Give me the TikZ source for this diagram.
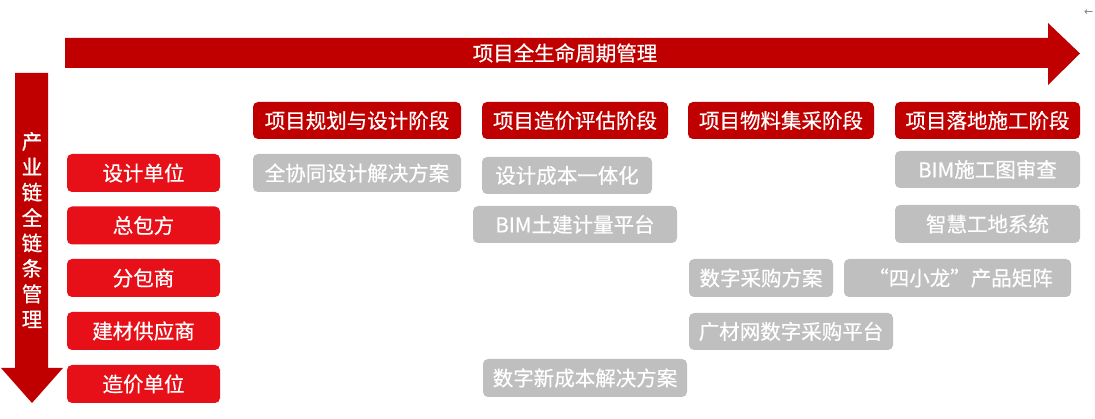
\documentclass[tikz,border=0pt]{standalone}
\usepackage{fontspec}
\setmainfont{Noto Sans CJK SC}[FakeBold=0.5]
\newfontfamily\symfont{DejaVu Sans}
\definecolor{darkred}{RGB}{192,0,0}
\definecolor{brightred}{RGB}{232,16,24}
\definecolor{boxgray}{RGB}{191,191,191}
\begin{document}
\begin{tikzpicture}[x=1pt,y=-1pt,
  base/.style={rounded corners=5pt, inner sep=0pt, text=white, font=\fontsize{20.5}{24}\selectfont},
  partybox/.style={base, fill=brightred, minimum width=153pt, minimum height=38pt},
  stagebox/.style={base, fill=darkred, minimum height=37pt},
  solbox/.style={base, fill=boxgray},
  arrowlabel/.style={text=white, font=\fontsize{20.5}{24}\selectfont, inner sep=0pt}
]
\useasboundingbox (0,0) rectangle (1095,419);
% top lifecycle arrow
\fill[darkred] (65,38) -- (1048,38) -- (1048,23) -- (1080,53.5) -- (1048,85) -- (1048,68) -- (65,68) -- cycle;
\node[arrowlabel] (life) at (565,53) {项目全生命周期管理};
% vertical chain arrow
\fill[darkred] (15,73) -- (48,73) -- (48,368) -- (63,368) -- (32,403) -- (1,368) -- (15,368) -- cycle;
\node[arrowlabel, align=center, font=\fontsize{20.5}{25.4}\selectfont] (chain) at (32,230) {产\\业\\链\\全\\链\\条\\管\\理};
% small glyph at top-right
\node[text=gray, font=\symfont\fontsize{11}{12}\selectfont, inner sep=0pt, anchor=west] (back) at (1084,13) {←};
% left party boxes
\node[partybox] (p1) at (143.5,173) {设计单位};
\node[partybox] (p2) at (143.5,225.5) {总包方};
\node[partybox] (p3) at (143.5,278) {分包商};
\node[partybox] (p4) at (143.5,331) {建材供应商};
\node[partybox] (p5) at (143.5,384) {造价单位};
% stage headers
\node[stagebox, minimum width=208pt] (s1) at (357,120.5) {项目规划与设计阶段};
\node[stagebox, minimum width=186pt] (s2) at (575,120.5) {项目造价评估阶段};
\node[stagebox, minimum width=186pt] (s3) at (781,120.5) {项目物料集采阶段};
\node[stagebox, minimum width=185pt] (s4) at (987.5,120.5) {项目落地施工阶段};
% solution boxes
\node[solbox, minimum width=208pt, minimum height=38pt] (g1) at (357,173) {全协同设计解决方案};
\node[solbox, minimum width=170pt, minimum height=37pt] (g2) at (567,175.5) {设计成本一体化};
\node[solbox, minimum width=204pt, minimum height=37pt] (g3) at (575,224.5) {BIM土建计量平台};
\node[solbox, minimum width=185pt, minimum height=37pt] (g4) at (987.5,169.5) {BIM施工图审查};
\node[solbox, minimum width=185pt, minimum height=38pt] (g5) at (987.5,224) {智慧工地系统};
\node[solbox, minimum width=144pt, minimum height=38pt] (g6) at (761,278) {数字采购方案};
\node[solbox, minimum width=227pt, minimum height=38pt] (g7) at (957.5,278) {\hspace{6pt}“四小龙”产品矩阵};
\node[solbox, minimum width=204pt, minimum height=37pt] (g8) at (791,331.5) {广材网数字采购平台};
\node[solbox, minimum width=204pt, minimum height=38pt] (g9) at (585,378) {数字新成本解决方案};
\end{tikzpicture}
\end{document}
